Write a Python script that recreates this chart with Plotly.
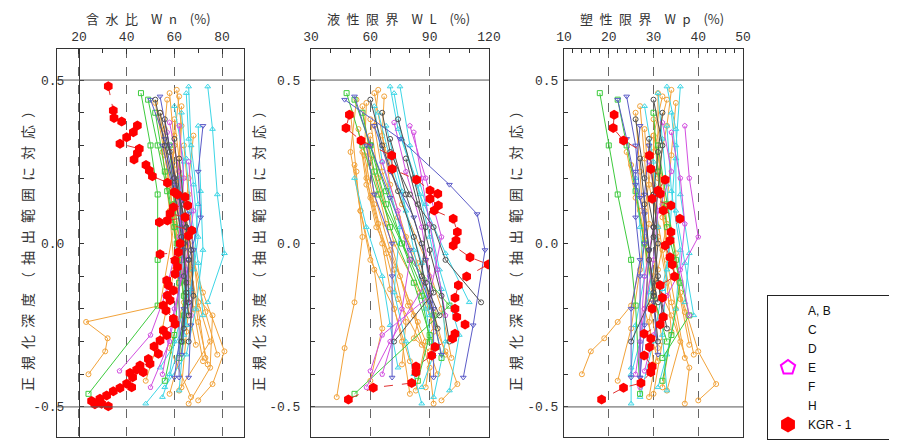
import plotly.graph_objects as go
import numpy as np

# ---------------- data ----------------
# KGR-1 (red hexagons)
kgr_wn_depth = [0.481, 0.407, 0.384, 0.373, 0.361, 0.34, 0.325, 0.305, 0.29, 0.276, 0.257, 0.24, 0.223, 0.206,
                0.186, 0.157, 0.15, 0.142, 0.116, 0.111, 0.092, 0.08, 0.07, 0.065, 0.04, 0.024, 0.0, -0.027,
                -0.033, -0.052, -0.072, -0.093, -0.113, -0.128, -0.144, -0.159, -0.174, -0.19, -0.205, -0.23,
                -0.246, -0.266, -0.281, -0.297, -0.315, -0.337, -0.353, -0.368, -0.373, -0.386, -0.394, -0.396,
                -0.409, -0.429, -0.44, -0.442, -0.452, -0.465, -0.475, -0.482, -0.49, -0.492, -0.498]
kgr_wn = [32.3, 34.4, 34.7, 37.9, 44.5, 42.8, 40.0, 37.2, 45.3, 44.5, 43.1, 48.1, 49.5, 50.8,
          57.1, 60.0, 61.3, 64.5, 65.6, 59.6, 58.2, 64.5, 57.1, 53.7, 67.3, 65.9, 62.4, 61.7,
          54.0, 60.3, 61.3, 60.3, 56.8, 57.5, 59.6, 57.1, 58.2, 55.4, 56.5, 59.6,
          60.3, 55.4, 56.8, 54.0, 51.5, 53.3, 49.1, 49.8, 45.6, 44.2, 47.0, 41.4,
          42.5, 40.0, 42.1, 37.2, 34.4, 31.6, 28.8, 25.3, 29.5, 26.7, 32.3]
kgr_depth = [0.394, 0.353, 0.315, 0.269, 0.228, 0.195, 0.162, 0.152, 0.137, 0.116, 0.101, 0.076, 0.035, 0.009,
             -0.006, -0.042, -0.064, -0.101, -0.128, -0.166, -0.2, -0.225, -0.248, -0.276, -0.291, -0.317,
             -0.343, -0.376, -0.394, -0.427, -0.441, -0.477]
kgr_wl = [49.4, 47.7, 55.3, 70.8, 71.1, 83.4, 90.2, 94.1, 90.2, 94.4, 92.3, 101.9, 104.0, 103.3,
          101.9, 110.4, 119.6, 108.7, 104.5, 102.8, 102.8, 103.7, 107.9, 102.8, 101.6, 92.7,
          91.0, 83.1, 83.1, 80.9, 61.5, 48.9]
kgr_wp = [21.2, 21.0, 23.3, 29.1, 29.4, 32.6, 31.0, 31.5, 29.7, 33.9, 32.2, 35.9, 33.9, 33.7,
          32.6, 33.7, 34.2, 34.7, 31.5, 32.0, 29.7, 32.2, 31.5, 27.9, 29.4, 29.1,
          27.9, 29.7, 29.4, 27.2, 23.3, 18.4]

# Group A,B
ab_depth = [[0.46, 0.30, 0.12, -0.05, -0.20, -0.35],
            [0.42, 0.26, 0.06, -0.19, -0.24, -0.29, -0.33, -0.40],
            [0.40, 0.22, 0.02, -0.18, -0.32, -0.47],
            [0.38, 0.20, 0.00, -0.15, -0.33, -0.43, -0.48],
            [0.45, 0.33, 0.18, 0.02, -0.12, -0.27, -0.44],
            [0.35, 0.18, 0.05, -0.10, -0.22, -0.38, -0.49],
            [0.30, 0.15, -0.02, -0.18, -0.30, -0.45],
            [0.24, 0.10, -0.05, -0.20, -0.36],
            [0.44, 0.28, 0.10, -0.08, -0.26, -0.42],
            [0.47, 0.36, 0.22, 0.08, -0.06, -0.21, -0.34],
            [0.33, 0.20, 0.06, -0.08, -0.24, -0.37],
            [0.28, 0.14, 0.00, -0.14, -0.30, -0.46],
            [0.43, 0.27, 0.12, -0.03, -0.17, -0.31]]
ab_wn = [[58, 60, 63, 66, 70, 73],
         [63, 62, 60, 54, 23, 32, 31, 24],
         [54, 57, 61, 64, 58, 67],
         [60, 63, 66, 72, 81, 76, 70],
         [62, 60, 59, 62, 67, 65, 63],
         [56, 58, 60, 62, 76, 75, 66],
         [64, 66, 68, 70, 75, 62],
         [60, 62, 66, 68, 72],
         [57, 55, 58, 60, 55, 48],
         [61, 63, 62, 65, 68, 73, 78],
         [68, 66, 64, 67, 70, 74],
         [59, 61, 63, 61, 64, 58],
         [52, 56, 59, 62, 65, 69]]
ab_wl = [[62, 67, 76, 88, 96, 101],
         [56, 60, 68, 79, 84, 82, 90, 94],
         [50, 53, 56, 52, 47, 43],
         [60, 64, 72, 85, 98, 104, 96],
         [67, 66, 70, 78, 86, 92, 88],
         [54, 58, 63, 75, 82, 90, 92],
         [58, 62, 70, 80, 88, 83],
         [52, 55, 60, 72, 80],
         [53, 50, 55, 62, 66, 60],
         [64, 62, 66, 74, 84, 92, 98],
         [60, 58, 64, 72, 78, 76],
         [56, 60, 66, 70, 76, 80],
         [58, 57, 62, 68, 74, 86]]
ab_wp = [[31, 31, 32, 33, 35, 37],
         [27, 28, 29, 25, 22, 19, 16, 14],
         [26, 27, 28, 29, 31, 29],
         [30, 31, 33, 36, 40, 44, 40],
         [32, 30, 30, 31, 33, 34, 32],
         [28, 29, 31, 30, 34, 38, 37],
         [29, 30, 32, 34, 36, 33],
         [25, 27, 29, 28, 31],
         [33, 30, 28, 27, 25, 22],
         [34, 33, 31, 32, 34, 37, 39],
         [30, 32, 33, 31, 29, 30],
         [24, 26, 28, 30, 32, 30],
         [35, 34, 33, 35, 36, 38]]

# Group C
c_depth = [[0.48, 0.35, 0.15, -0.03, -0.18],
           [0.48, 0.30, 0.12, -0.08, -0.28, -0.45],
           [0.42, 0.25, 0.05, -0.15, -0.30, -0.40, -0.49],
           [0.36, 0.16, -0.02, -0.20, -0.34, -0.44],
           [0.20, 0.05, -0.10, -0.25, -0.38],
           [0.46, 0.32, 0.18, 0.02, -0.14, -0.30, -0.47],
           [0.40, 0.26, 0.10, -0.06, -0.22]]
c_wn = [[74, 76, 78, 81, 74],
        [66, 67, 70, 68, 64, 62],
        [60, 64, 62, 66, 60, 58, 48],
        [70, 71, 72, 69, 65, 56],
        [62, 63, 64, 65, 54],
        [65, 66, 68, 70, 67, 63, 55],
        [63, 65, 67, 70, 72]]
c_wl = [[70, 74, 85, 98, 110],
        [75, 80, 88, 95, 105, 100],
        [62, 66, 75, 72, 78, 82, 86],
        [68, 76, 82, 88, 92, 86],
        [52, 58, 66, 70, 74],
        [72, 76, 84, 90, 96, 98, 92],
        [64, 70, 78, 86, 90]]
c_wp = [[33, 35, 36, 38, 37],
        [36, 35, 34, 33, 32, 33],
        [28, 30, 31, 29, 27, 25, 25],
        [33, 34, 36, 35, 33, 31],
        [26, 27, 28, 26, 25],
        [31, 32, 33, 34, 32, 30, 27],
        [34, 35, 35, 37, 39]]

# Group D
d_depth = [[0.46, 0.30, 0.15, -0.05, -0.19, -0.46],
           [0.40, 0.22, 0.05, -0.12, -0.28, -0.42],
           [0.30, 0.12, -0.05, -0.22, -0.35],
           [0.44, 0.30, 0.16, 0.00, -0.16, -0.30]]
d_wn = [[46, 50, 53, 53, 53, 24],
        [52, 56, 60, 62, 60, 56],
        [58, 60, 63, 64, 62],
        [49, 53, 57, 61, 64, 63]]
d_wl = [[48, 56, 64, 80, 100, 52],
        [56, 62, 70, 82, 90, 84],
        [60, 68, 80, 92, 96],
        [52, 60, 68, 76, 86, 90]]
d_wp = [[18, 20, 22, 25, 26, 27],
        [30, 31, 33, 36, 34, 32],
        [31, 33, 35, 38, 32],
        [22, 24, 26, 28, 30, 33]]

# Group E
e_depth = [[0.36, 0.20, 0.02, -0.16, -0.28, -0.39],
           [0.37, 0.22, 0.05, -0.10, -0.30, -0.44],
           [0.25, 0.10, -0.05, -0.20, -0.40],
           [0.34, 0.20, 0.06, -0.08, -0.22]]
e_wn = [[62, 64, 62, 56, 50, 37],
        [58, 62, 64, 63, 58, 50],
        [66, 68, 65, 60, 55],
        [57, 60, 63, 65, 67]]
e_wl = [[80, 88, 96, 90, 66, 60],
        [72, 78, 86, 90, 70, 58],
        [66, 74, 80, 76, 66],
        [82, 86, 90, 94, 98]]
e_wp = [[37, 38, 40, 33, 30, 28],
        [32, 34, 30, 28, 27, 27],
        [29, 31, 30, 28, 26],
        [34, 36, 37, 36, 38]]

# Group F
f_depth = [[0.44, 0.32, 0.18, 0.09, -0.02, -0.25, -0.41],
           [0.36, 0.22, 0.08, -0.05, -0.20, -0.41],
           [0.30, 0.15, 0.00, -0.10, -0.41],
           [0.45, 0.30, 0.14, -0.02, -0.18, -0.34]]
f_wn = [[50, 56, 60, 66, 68, 67, 66],
        [72, 70, 71, 66, 64, 60],
        [55, 60, 64, 62, 62],
        [54, 58, 62, 64, 65, 63]]
f_wl = [[47, 75, 100, 114, 118, 112, 107],
        [62, 70, 82, 88, 92, 92],
        [58, 62, 71, 71, 71],
        [52, 60, 70, 80, 90, 96]]
f_wp = [[22, 24, 26, 28, 29, 28, 27],
        [27, 26, 26, 27, 25, 25],
        [29, 28, 28, 27, 27],
        [24, 26, 27, 29, 30, 31]]

# Group H
h_depth = [[0.40, 0.28, 0.15, 0.05, -0.05, -0.18],
           [0.32, 0.15, 0.00, -0.15, -0.30],
           [0.38, 0.20, 0.05, -0.10, -0.22],
           [0.44, 0.30, 0.16, 0.02, -0.12, -0.26],
           [0.26, 0.12, -0.02, -0.16, -0.30]]
h_wn = [[54, 58, 62, 65, 66, 66],
        [60, 62, 64, 65, 63],
        [56, 60, 65, 64, 66],
        [52, 56, 60, 63, 65, 64],
        [62, 64, 67, 68, 66]]
h_wl = [[66, 70, 80, 92, 98, 116],
        [70, 78, 86, 92, 72],
        [74, 82, 88, 86, 95],
        [60, 66, 74, 82, 88, 94],
        [78, 84, 90, 96, 100]]
h_wp = [[32, 31, 30, 30, 29, 31],
        [29, 30, 31, 30, 25],
        [26, 28, 30, 31, 32],
        [30, 32, 31, 30, 31, 33],
        [27, 28, 29, 30, 31]]

legend_names = ["A, B", "C", "D", "E", "F", "H", "KGR - 1"]
wn_ticks = [20, 40, 60, 80]
wl_ticks = [30, 60, 90, 120]
wp_ticks = [10, 20, 30, 40, 50]
depth_ticks = [-0.5, 0.0, 0.5]
depth_ticktext = ["-0.5", "0.0", "0.5"]

# ---------------- styling ----------------
# the page body adds an 8px margin, so the figure is drawn 8px smaller and every
# target pixel position is shifted by OFF
OFF = 8
FW, FH = 897 - OFF, 443 - OFF
MT = 49 - OFF
MB = FH - (437 - OFF)
PH = FH - MT - MB

def fx(px):
    return (px - OFF) / FW

def fy(py):
    return (FH - MB - (py - OFF)) / PH

groups = [
    ("A, B", ab_depth, ab_wn, ab_wl, ab_wp, "#F2A33A", "circle-open"),
    ("C", c_depth, c_wn, c_wl, c_wp, "#3ED6E6", "triangle-up-open"),
    ("D", d_depth, d_wn, d_wl, d_wp, "#3DCB3D", "square-open"),
    ("E", e_depth, e_wn, e_wl, e_wp, "#D24FE0", "pentagon-open"),
    ("F", f_depth, f_wn, f_wl, f_wp, "#5B5BC8", "triangle-down-open"),
    ("H", h_depth, h_wn, h_wl, h_wp, "#505050", "circle-open"),
]

fig = go.Figure()
axes = [("x", "y"), ("x2", "y2"), ("x3", "y3")]
for name, dep, wn, wl, wp, col, sym in groups:
    for k, vals in enumerate([wn, wl, wp]):
        for dl, vl in zip(dep, vals):
            fig.add_trace(go.Scatter(
                x=vl, y=dl, mode="lines+markers", xaxis=axes[k][0], yaxis=axes[k][1],
                line=dict(color=col, width=1),
                marker=dict(symbol=sym, size=5, color=col, line=dict(width=1, color=col)),
                showlegend=False, hoverinfo="skip"))

red_series = [(kgr_wn, kgr_wn_depth), (kgr_wl, kgr_depth), (kgr_wp, kgr_depth)]
for k, (vx, vy) in enumerate(red_series):
    fig.add_trace(go.Scatter(
        x=vx, y=vy, mode="lines+markers", xaxis=axes[k][0], yaxis=axes[k][1],
        line=dict(color="#E03030", width=1, dash="dash"),
        marker=dict(symbol="hexagon", size=10, color="#FF0000", line=dict(width=0)),
        showlegend=False, hoverinfo="skip"))

# inner depth axis of first panel (at Wn = 20)
fig.add_trace(go.Scatter(x=[None], y=[None], xaxis="x", yaxis="y4", showlegend=False))

# legend entries
leg_style = {
    "A, B": None, "C": None, "D": None, "F": None, "H": None,
    "E": dict(symbol="pentagon-open", size=15, color="#FF00FF", line=dict(width=2, color="#FF00FF")),
    "KGR - 1": dict(symbol="hexagon", size=17, color="#FF0000", line=dict(width=0)),
}
for nm in legend_names:
    mk = leg_style[nm]
    if mk is None:
        mk = dict(symbol="circle", size=8, color="rgba(0,0,0,0)", line=dict(width=0))
    label = nm + "\u00a0" * 12 if nm == "KGR - 1" else nm
    fig.add_trace(go.Scatter(x=[None], y=[None], mode="markers", name=label, marker=mk,
                             xaxis="x", yaxis="y", showlegend=True))

tick_font = dict(family="Liberation Mono", size=13, color="#333333")
yr = [-0.592, 0.595]
minor_y = list(np.round(np.arange(-0.5, 0.51, 0.1), 1))

def xax(domain, rng, tickvals, minorvals):
    return dict(domain=domain, range=rng, side="top", tickvals=tickvals, ticks="inside", ticklen=5,
                tickcolor="#333", tickfont=tick_font, ticklabelstandoff=2, automargin=False,
                showline=True, mirror=True, linecolor="#333",
                linewidth=1, showgrid=True, gridcolor="#666", griddash="dash", gridwidth=1,
                zeroline=False, fixedrange=True,
                minor=dict(tickvals=minorvals, ticks="inside", ticklen=4, tickcolor="#333", showgrid=False))

def yax(anchor, standoff):
    return dict(domain=[0, 1], range=yr, anchor=anchor, showline=True, mirror=True, linecolor="#333",
                tickvals=depth_ticks, ticktext=depth_ticktext, ticks="inside", ticklen=4,
                tickcolor="#333", tickfont=tick_font, ticklabelstandoff=standoff, showgrid=False,
                zeroline=False, automargin=False,
                minor=dict(tickvals=minor_y, ticks="inside", ticklen=4, tickcolor="#333"))

fig.update_layout(
    width=FW, height=FH, margin=dict(l=0, r=0, t=MT, b=MB, autoexpand=False),
    paper_bgcolor="white", plot_bgcolor="white",
    xaxis=xax([fx(57), fx(244)], [10.8, 89.2], wn_ticks, [30, 50, 70]),
    xaxis2=xax([fx(311), fx(489)], [30, 120], wl_ticks, [40, 50, 70, 80, 100, 110]),
    xaxis3=xax([fx(564), fx(743)], [10, 50], wp_ticks,
               [v for v in range(12, 50, 2) if v % 10 != 0]),
    yaxis=dict(domain=[0, 1], range=yr, anchor="x", showline=True, mirror=True, linecolor="#333",
               showticklabels=False, ticks="", showgrid=False, zeroline=False, automargin=False),
    yaxis4=dict(range=yr, overlaying="y", anchor="free", position=fx(79), showline=True,
                linecolor="#333", tickvals=depth_ticks, ticktext=depth_ticktext, ticks="inside",
                ticklen=4, tickcolor="#333", tickfont=tick_font, ticklabelstandoff=12,
                showgrid=False, zeroline=False, automargin=False,
                minor=dict(tickvals=minor_y, ticks="inside", ticklen=4, tickcolor="#333")),
    yaxis2=yax("x2", 7),
    yaxis3=yax("x3", 2),
    legend=dict(x=fx(767), xanchor="left", y=fy(440), yanchor="bottom",
                bordercolor="#222", borderwidth=1, bgcolor="white", tracegroupgap=0,
                font=dict(family="Liberation Sans", size=12, color="#111"),
                itemwidth=30),
    showlegend=True,
)

# horizontal reference lines at +/-0.5
for xr, yref in [("x", "y"), ("x2", "y2"), ("x3", "y3")]:
    for yv in [0.5, -0.5]:
        fig.add_shape(type="line", xref=f"{xr} domain", yref=yref, x0=0, x1=1, y0=yv, y1=yv,
                      line=dict(color="#555", width=1))

sp = "\u2002"
title_font = dict(family="Noto Sans CJK JP", size=13, color="#333")
tops = [(sp.join("含水比") + "\u3000" + "W" + sp + "n" + "\u3000" + "(%)", 148),
        (sp.join("液性限界") + "\u3000" + "W" + sp + "L" + "\u3000" + "(%)", 398),
        (sp.join("塑性限界") + "\u3000" + "W" + sp + "p" + "\u3000" + "(%)", 652)]
for txt, cx in tops:
    fig.add_annotation(text=txt, x=fx(cx), y=fy(8), xref="paper", yref="paper",
                       showarrow=False, font=title_font, xanchor="center", yanchor="top",
                       borderpad=0)

ytitle = sp.join(list("正規化深度（抽出範囲に対応）"))
for cx in [27, 258, 515]:
    fig.add_annotation(text=ytitle, x=fx(cx), y=fy(248), xref="paper", yref="paper",
                       showarrow=False, textangle=-90, font=dict(family="Noto Sans CJK JP", size=14, color="#333"),
                       xanchor="center", yanchor="middle")

fig.write_html("out.html")
